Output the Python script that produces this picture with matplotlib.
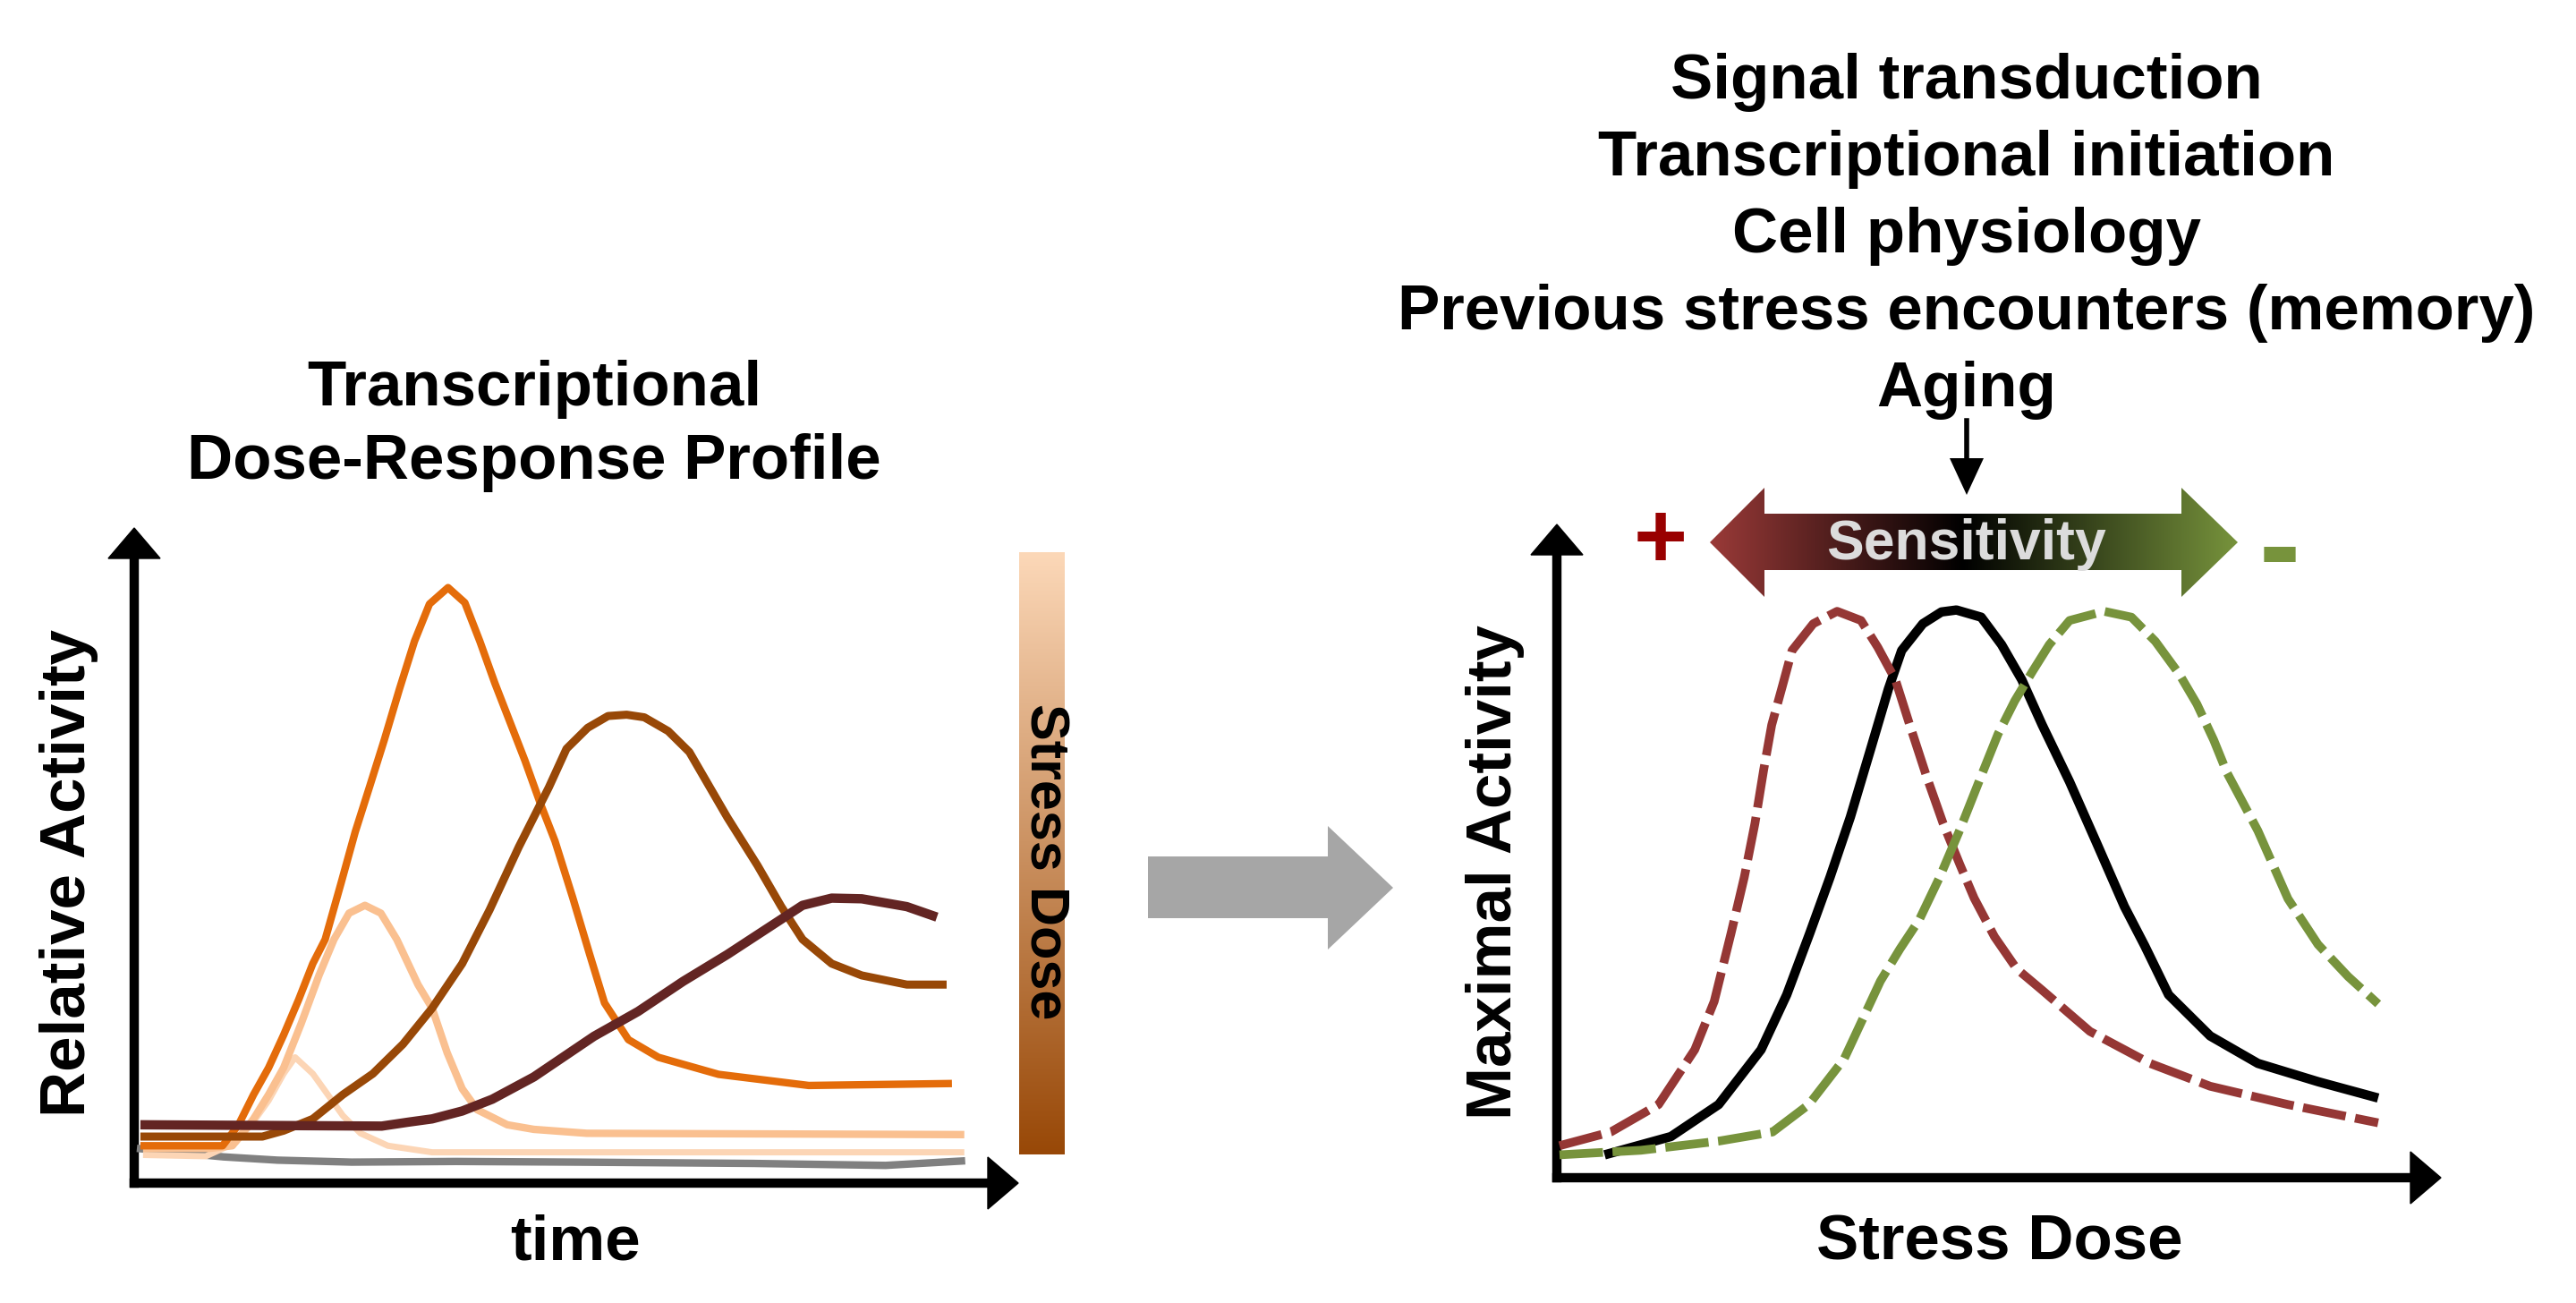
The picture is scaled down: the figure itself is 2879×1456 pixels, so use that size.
import numpy as np
import matplotlib
matplotlib.use("Agg")
import matplotlib.pyplot as plt
from matplotlib.patches import Polygon
from matplotlib.colors import LinearSegmentedColormap

plt.rcParams['font.family'] = ['Liberation Sans', 'DejaVu Sans']

# ---- left panel: relative activity over time (schematic, 0-100 units)
light_x = [1.0, 8.1, 11.5, 13.5, 15.2, 16.9, 18.2, 20.2, 21.9, 23.6, 25.6, 28.7, 33.7, 60, 93.9]
light_y = [4.3, 4.1, 6.2, 9.4, 12.6, 16.7, 19.2, 16.7, 13.5, 10.3, 7.6, 5.7, 4.7, 4.7, 4.7]

peach_x = [1, 8.5, 11.1, 13.5, 15.2, 16.9, 18.9, 20.9, 22.6, 24.3, 26.1, 27.9, 29.7, 32.1,
           33.7, 35.4, 37.1, 38.8, 42.2, 45.2, 51.2, 93.9]
peach_y = [5.3, 5.3, 5.7, 9.8, 13.5, 17.6, 24.4, 31.7, 37.2, 41.2, 42.4, 41.2, 37.2, 30.3,
           26.7, 19.9, 14.4, 11.2, 8.9, 8.2, 7.6, 7.4]

orange_x = [0.7, 10, 11.8, 13.5, 15.2, 16.9, 18.6, 20.2, 21.6, 23.4, 25.0, 26.6, 28.3, 30.0,
            31.7, 33.4, 35.5, 37.4, 39.1, 40.8, 42.5, 44.2, 45.9, 47.6, 49.6, 51.5, 53.2,
            55.9, 59.3, 66.1, 76.3, 92.5]
orange_y = [5.7, 5.7, 8.9, 13.5, 17.6, 22.6, 28.0, 33.5, 37.2, 45.8, 53.6, 60.4, 67.7, 75.4,
            82.7, 88.4, 90.9, 88.6, 82.7, 76.3, 70.4, 64.5, 58.1, 52.2, 43.6, 35, 27.5,
            21.9, 19.2, 16.6, 14.9, 15.2]

brown_x = [0.7, 14.5, 16.9, 20.2, 23.6, 27.0, 30.4, 33.7, 37.1, 40.2, 43.5, 46.9, 48.9, 51.3,
           53.6, 55.7, 57.7, 60.4, 62.8, 67.1, 70.5, 73.2, 75.6, 78.9, 82.3, 87.4, 91.9]
brown_y = [7.1, 7.1, 8.0, 9.8, 13.5, 16.7, 21.2, 26.7, 33.5, 41.7, 51.3, 60.4, 66.3, 69.5,
           71.3, 71.5, 71.1, 69.0, 65.8, 55.8, 48.5, 42.2, 37.2, 33.5, 31.7, 30.3, 30.3]

maroon_x = [0.7, 28, 31.0, 33.7, 37.1, 40.5, 45.2, 52.0, 57.0, 62.1, 67.1, 72.2, 75.6, 78.9,
            82.3, 87.4, 90.8]
maroon_y = [8.9, 8.7, 9.3, 9.8, 11.0, 12.8, 16.2, 22.4, 26.2, 30.8, 34.9, 39.4, 42.4, 43.5,
            43.4, 42.2, 40.6]

gray_x = [0.3, 5.4, 10.1, 16.2, 24.6, 36.4, 50, 70, 85, 94]
gray_y = [5.3, 4.6, 4.0, 3.5, 3.2, 3.3, 3.2, 3.0, 2.7, 3.4]

# ---- right panel: maximal activity vs stress dose
black_x = [5.4, 12.9, 18.3, 23.1, 26, 28.6, 30.9, 33.2, 35.6, 37.5, 39.0, 41.4, 43.5, 45.2,
           48.0, 50.3, 52.6, 54.9, 58.0, 61.1, 64.2, 66.5, 69.2, 73.9, 79.3, 86.1, 92.9]
black_y = [3.5, 6.3, 11.2, 19.6, 28, 37.4, 46.0, 55.2, 66.1, 74.8, 80.7, 84.8, 86.6, 86.9,
           85.8, 81.6, 76.2, 69.3, 60.6, 51.1, 41.5, 35.5, 28, 21.7, 17.5, 14.7, 12.2]

red_x = [0.3, 6.1, 11.5, 15.6, 17.8, 19.7, 21.2, 22.4, 23.4, 24.3, 25.5, 26.6, 29.0, 31.7,
         34.4, 36.3, 38.3, 39.8, 41.8, 43.7, 45.6, 47.2, 49.5, 52, 54.9, 60.3, 67.1, 73.9,
         82.7, 92.9]
red_y = [4.9, 7, 11.2, 19.6, 27, 37.4, 46.0, 54.2, 62.5, 69.3, 75.2, 80.7, 84.8, 86.7,
         85.3, 81.2, 76.2, 69.8, 61.5, 54.2, 47.9, 42.8, 36.9, 32, 28.7, 22.4, 17.5, 14,
         11.2, 8.4]

green_x = [0.3, 9.5, 18.3, 24.4, 28.5, 32.5, 36.6, 38.8, 41.0, 43.3, 45.6, 48.0, 49.9, 51.8,
           53.8, 55.7, 58.0, 61.9, 65.0, 67.7, 70.4, 72.4, 74.3, 75.8, 79.3, 82.7, 86.1,
           89.5, 92.9]
green_y = [3.5, 4.2, 5.6, 7, 11.2, 18.2, 30.1, 35.0, 39.5, 46.0, 53.3, 61.5, 67.9, 73.0,
           77.5, 81.6, 85.3, 86.7, 85.8, 82.1, 77.1, 72.5, 67.0, 62.0, 53.1, 42.7, 35.7,
           30.8, 26.6]

header_lines = ["Signal transduction", "Transcriptional initiation", "Cell physiology",
                "Previous stress encounters (memory)", "Aging"]

W, H = 2879, 1456
fig = plt.figure(figsize=(W / 100, H / 100), dpi=100)

# full-figure overlay in pixel units for the decorations
ax0 = fig.add_axes([0, 0, 1, 1])
ax0.set_xlim(0, W)
ax0.set_ylim(H, 0)
ax0.axis('off')


def add_panel(left, top, right, bottom):
    ax = fig.add_axes([left / W, (H - bottom) / H, (right - left) / W, (bottom - top) / H])
    ax.set_xlim(0, 100)
    ax.set_ylim(0, 100)
    ax.axis('off')
    w, h = right - left, bottom - top
    hl, hw = 34, 29
    kw = dict(transform=ax.transAxes, color='black', lw=7.5, clip_on=False,
              solid_capstyle='projecting')
    ax.plot([0, 0], [0, 1 - hl / h], **kw)
    ax.plot([0, 1 - hl / w], [0, 0], **kw)
    ax.add_patch(Polygon([(-hw / w, 1 - hl / h), (hw / w, 1 - hl / h), (0, 1)],
                         closed=True, color='black', transform=ax.transAxes, clip_on=False))
    ax.add_patch(Polygon([(1 - hl / w, -hw / h), (1 - hl / w, hw / h), (1, 0)],
                         closed=True, color='black', transform=ax.transAxes, clip_on=False))
    return ax


axL = add_panel(150, 590, 1138, 1322)
axR = add_panel(1740, 586, 2728, 1316)

lk = dict(solid_joinstyle='round', solid_capstyle='butt')
axL.plot(gray_x, gray_y, color='#808080', lw=6, **lk)
axL.plot(light_x, light_y, color='#FCD5B5', lw=5, **lk)
axL.plot(peach_x, peach_y, color='#FAC090', lw=6, **lk)
axL.plot(orange_x, orange_y, color='#E46C0A', lw=6, **lk)
axL.plot(brown_x, brown_y, color='#984807', lw=6.5, **lk)
axL.plot(maroon_x, maroon_y, color='#632523', lw=7.5, **lk)

axR.plot(black_x, black_y, color='black', lw=7.5, **lk)
dk = dict(lw=7, ls=(0, (5, 1.1)), dash_capstyle='butt', dash_joinstyle='round')
axR.plot(red_x, red_y, color='#953735', **dk)
axR.plot(green_x, green_y, color='#77933C', **dk)

bold = dict(fontsize=51, fontweight='bold', ha='center', color='black')

# left titles and labels
ax0.text(597, 453, "Transcriptional", va='baseline', **bold)
ax0.text(597, 535, "Dose-Response Profile", va='baseline', **bold)
ax0.text(77, 975, "Relative Activity", va='center', rotation=90, **bold)
ax0.text(643, 1390, "time", va='center', **bold)

# stress dose gradient bar
dose_cmap = LinearSegmentedColormap.from_list('dose', ['#FCD8B8', '#984807'])
ax0.imshow(np.linspace(0, 1, 256).reshape(-1, 1), cmap=dose_cmap, aspect='auto',
           extent=(1139, 1190, 1290, 617), zorder=1)
ax0.text(1167, 963, "Stress Dose", rotation=-90, ha='center', va='center',
         fontsize=44, fontweight='bold', color='black', zorder=3)

# gray block arrow between panels
ax0.add_patch(Polygon([(1283, 957), (1484, 957), (1484, 923), (1557, 992), (1484, 1061),
                       (1484, 1026), (1283, 1026)], closed=True, color='#A6A6A6', lw=0))

# right header
for i, line in enumerate(header_lines):
    ax0.text(2198, 110 + i * 86, line, va='baseline', **bold)

# small down arrow under "Aging"
ax0.plot([2198, 2198], [470, 515], color='black', lw=4)
ax0.add_patch(Polygon([(2179, 512), (2217, 512), (2198, 553)], closed=True, color='black', lw=0))

# sensitivity double arrow with red-black-green gradient
sens_pts = [(1911, 606), (1972, 545), (1972, 574), (2438, 574), (2438, 545), (2501, 606),
            (2438, 667), (2438, 637), (1972, 637), (1972, 667)]
sens_poly = Polygon(sens_pts, closed=True, facecolor='none', edgecolor='none',
                    transform=ax0.transData)
ax0.add_patch(sens_poly)
sens_cmap = LinearSegmentedColormap.from_list(
    'sens', [(0, '#9A3A38'), (0.48, '#000000'), (1, '#77933C')])
im = ax0.imshow(np.linspace(0, 1, 256).reshape(1, -1), cmap=sens_cmap, aspect='auto',
                extent=(1911, 2501, 667, 545), zorder=1)
im.set_clip_path(sens_poly)
ax0.text(2198, 608, "Sensitivity", ha='center', va='center', fontsize=45,
         fontweight='bold', color='#DCDCDC', zorder=3)
ax0.text(1856, 607, "+", ha='center', va='center', fontsize=74, fontweight='bold',
         color='#990000')
ax0.text(2548, 606, "-", ha='center', va='center_baseline', fontsize=100, fontweight='bold',
         color='#77933C')

# right labels
ax0.text(1671, 975, "Maximal Activity", va='center', rotation=90, **bold)
ax0.text(2235, 1390, "Stress Dose", va='center', **bold)

ax0.set_xlim(0, W)
ax0.set_ylim(H, 0)

fig.savefig('out.png', dpi=100)
